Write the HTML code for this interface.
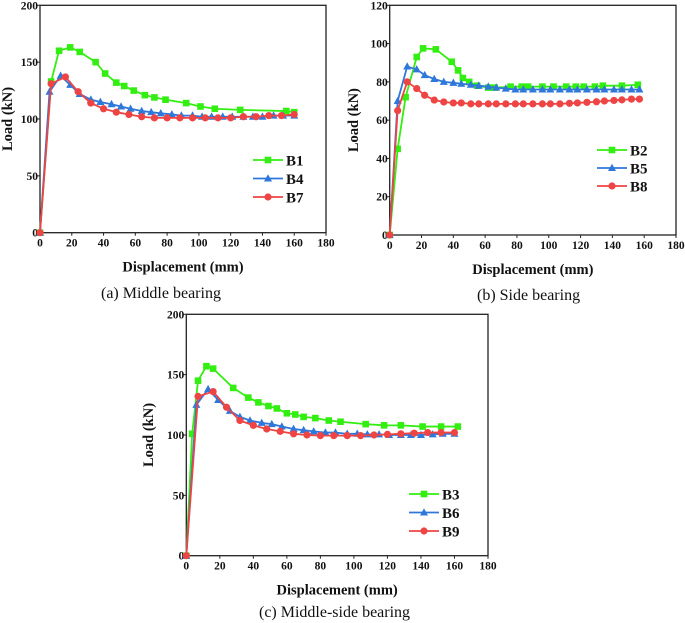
<!DOCTYPE html>
<html><head><meta charset="utf-8"><style>
body{margin:0;background:#fff;width:685px;height:623px;overflow:hidden}
svg{display:block}
svg text{font-family:"Liberation Serif","Times New Roman",serif}
</style></head><body>
<svg id="fig" width="685" height="623" viewBox="0 0 685 623" xmlns="http://www.w3.org/2000/svg" font-family="Liberation Serif, serif"></svg>
<script>
const xTicks=[0,20,40,60,80,100,120,140,160,180];
const yTicksA=[0,50,100,150,200];
const yTicksB=[0,20,40,60,80,100,120];
const yTicksC=[0,50,100,150,200];
const b1X=[0,7,12,19,25,35,41,48,53,59,66,72,79,92,101,110,126,155,160];
const b1Y=[0,133,160,163,159,150,140,132,129,125,121,119,117,114,111,109,108,107,106];
const b4X=[0,6,13,19,25,32,38,45,51,57,64,70,76,83,89,96,102,108,115,121,128,134,140,147,153,160];
const b4Y=[0,124,138,130,122,117,115,113,111,109,107,106,105,104,103,103,102,102,102,102,102,102,102,103,103,103];
const b7X=[0,7,16,24,32,40,48,56,64,72,80,88,96,104,112,120,128,136,144,152,160];
const b7Y=[0,131,137,124,114,109,106,104,102,101,101,101,101,101,101,101,102,102,103,103,104];
const b2X=[0,5,10,17,21,29,39,43,46,50,55,62,66,76,83,87,96,103,111,117,122,129,134,146,156];
const b2Y=[0,45,72,93,97.5,97,90.5,86,82,80,78,77,77,77.5,77.5,77.5,77.5,77.5,77.5,77.5,77.5,77.5,78,78,78.5];
const b5X=[0,5,11,17,22,28,34,40,45,51,56,62,67,73,79,84,90,96,101,107,113,118,124,130,135,141,146,152,157];
const b5Y=[0,70,88,86.5,83.5,81.5,80,79.5,79,78.5,78,77.5,77,76.5,76,76,76,76,76,76,76,76,76,76,76,76,76,76,76];
const b8X=[0,5,11,17,22,28,34,40,45,51,56,62,67,73,79,84,90,96,101,107,113,118,124,130,135,141,146,152,157];
const b8Y=[0,65,80,76.5,73,70.5,69.5,69,69,68.5,68.5,68.5,68.5,68.5,68.5,68.5,68.5,68.5,68.5,68.5,68.8,69,69.3,69.6,70,70.3,70.6,71,71];
const b3X=[0,3.5,7,12,16,28,37,43,49,54,60,65,70,77,85,92,107,118,128,141,152,162];
const b3Y=[0,101,145,157,155,139,131,127,124,122,118,117,115,114,112,111,109,108,108,107,107,107];
const b6X=[0,6,13,19,26,32,38,45,51,57,64,70,76,83,89,96,102,108,115,121,128,134,140,147,153,160];
const b6Y=[0,125,138,129,120,115,112,110,109,107,105,104,103,102,102,101,101,100.5,100.5,100,100,100,100,100.5,101,101];
const b9X=[0,7,16,24,32,40,48,56,64,72,80,88,96,104,112,120,128,136,144,152,160];
const b9Y=[0,132,136,123,112,108,105,103,101,100,99.5,99.5,99.5,99.5,100,100.5,101,101.5,102,102,102];

const NS="http://www.w3.org/2000/svg";
const svg=document.getElementById('fig');
function mk(tag,attrs,parent){const e=document.createElementNS(NS,tag);for(const k in attrs)e.setAttribute(k,attrs[k]);(parent||svg).appendChild(e);return e;}
const COL={green:'#33ee11',blue:'#2f77d9',red:'#ee4444'};
const FF='Liberation Serif, serif';

function marker(g,shape,x,y,c,s){
  let m;
  if(shape==='sq') m=mk('rect',{x:x-3.3,y:y-3.3,width:6.6,height:6.6,fill:c},g);
  else if(shape==='tri') m=mk('polygon',{points:`${x},${y-4.3} ${x-4},${y+3} ${x+4},${y+3}`,fill:c},g);
  else m=mk('circle',{cx:x,cy:y,r:3.6,fill:c},g);
  
  
}

function chart(p){
  const g=mk('g',{});
  
  
  const X=v=>p.x0+(v/180)*(p.x1-p.x0);
  const Y=v=>p.y0-(v/p.ymax)*(p.y0-p.y1);
  const fr=mk('rect',{x:p.x0,y:p.y1,width:p.x1-p.x0,height:p.y0-p.y1,fill:'none',stroke:'#222','stroke-width':1.3},g);
  
  
  xTicks.forEach(t=>{
    mk('line',{x1:X(t),x2:X(t),y1:p.y0,y2:p.y0+3,stroke:'#222','stroke-width':1},g);
    const tx=mk('text',{x:X(t),y:p.y0+14,'text-anchor':'middle','font-size':11.5,'font-weight':'bold',fill:'#111','font-family':FF},g);
    tx.textContent=t;
    
    
  });
  p.yt.forEach(t=>{
    mk('line',{x1:p.x0-3,x2:p.x0,y1:Y(t),y2:Y(t),stroke:'#222','stroke-width':1},g);
    const tx=mk('text',{x:p.x0-2,y:Y(t)+4,'text-anchor':'end','font-size':11.5,'font-weight':'bold',fill:'#111','font-family':FF},g);
    tx.textContent=t;
    
    
  });
  const xt=mk('text',{x:(p.x0+p.x1)/2,y:p.y0+39,'text-anchor':'middle','font-size':14.5,'font-weight':'bold',fill:'#111','font-family':FF},g);
  xt.textContent='Displacement (mm)';
  
  
  const yc=(p.y0+p.y1)/2;
  const yt=mk('text',{x:p.ytx,y:yc,'text-anchor':'middle','font-size':14.5,'font-weight':'bold',fill:'#111','font-family':FF,transform:`rotate(-90 ${p.ytx} ${yc})`},g);
  yt.textContent='Load (kN)';
  
  
  const cap=mk('text',{x:p.capX,y:p.capY,'font-size':16,fill:'#111','font-family':FF},g);
  cap.textContent=p.cap;
  
  
  p.series.forEach((s,i)=>{
    const sg=mk('g',{},g);
    
    
    const pts=s.x.map((v,j)=>X(v)+','+Y(s.y[j])).join(' ');
    const pl=mk('polyline',{points:pts,fill:'none',stroke:s.c,'stroke-width':1.8,'stroke-linejoin':'round'},sg);
    
    
    s.x.forEach((v,j)=>marker(sg,s.m,X(v),Y(s.y[j]),s.c,s.n.toLowerCase()));
    const ly=p.ly+i*p.ld;
    const lg=mk('g',{},g);
    
    
    mk('line',{x1:p.lx,x2:p.lx+30,y1:ly,y2:ly,stroke:s.c,'stroke-width':1.8},lg);
    marker(lg,s.m,p.lx+15,ly,s.c,'legend');
    const lt=mk('text',{x:p.lx+33,y:ly+5.5,'font-size':15,'font-weight':'bold',fill:'#111','font-family':FF},lg);
    lt.textContent=s.n;
  });
}

chart({name:'chart-a-middle-bearing',x0:40,x1:326,y0:232.7,y1:5.3,ymax:200,yt:yTicksA,ytx:12,
  cap:'(a) Middle bearing',capX:101,capY:298,lx:253,ly:160,ld:18.5,
  series:[{n:'B1',x:b1X,y:b1Y,c:COL.green,m:'sq'},{n:'B4',x:b4X,y:b4Y,c:COL.blue,m:'tri'},{n:'B7',x:b7X,y:b7Y,c:COL.red,m:'ci'}]});
chart({name:'chart-b-side-bearing',x0:389.7,x1:676,y0:235,y1:5.3,ymax:120,yt:yTicksB,ytx:358,
  cap:'(b) Side bearing',capX:477,capY:300,lx:597,ly:150,ld:18,
  series:[{n:'B2',x:b2X,y:b2Y,c:COL.green,m:'sq'},{n:'B5',x:b5X,y:b5Y,c:COL.blue,m:'tri'},{n:'B8',x:b8X,y:b8Y,c:COL.red,m:'ci'}]});
chart({name:'chart-c-middle-side-bearing',x0:186.3,x1:488,y0:555.7,y1:314.3,ymax:200,yt:yTicksC,ytx:153,
  cap:'(c) Middle-side bearing',capX:259,capY:617,lx:409,ly:494,ld:18.5,
  series:[{n:'B3',x:b3X,y:b3Y,c:COL.green,m:'sq'},{n:'B6',x:b6X,y:b6Y,c:COL.blue,m:'tri'},{n:'B9',x:b9X,y:b9Y,c:COL.red,m:'ci'}]});
</script>
</body></html>
